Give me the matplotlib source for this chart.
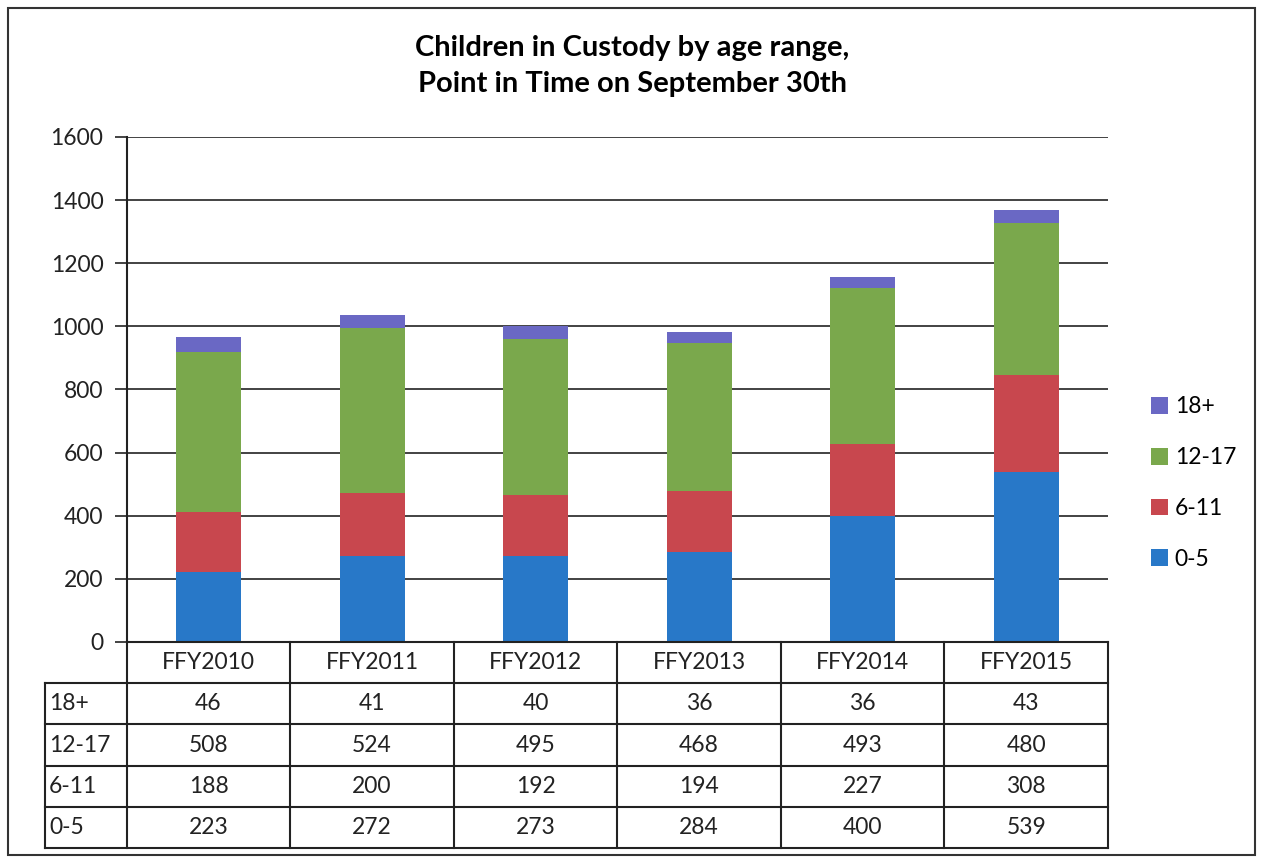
import numpy as np
import matplotlib.pyplot as plt
from matplotlib.patches import Rectangle

plt.rcParams['font.family'] = ['Lato', 'DejaVu Sans']

years = ['FFY2010', 'FFY2011', 'FFY2012', 'FFY2013', 'FFY2014', 'FFY2015']
age_groups = ['0-5', '6-11', '12-17', '18+']
age_0_5 = [223, 272, 273, 284, 400, 539]
age_6_11 = [188, 200, 192, 194, 227, 308]
age_12_17 = [508, 524, 495, 468, 493, 480]
age_18_plus = [46, 41, 40, 36, 36, 43]
yticks = [0, 200, 400, 600, 800, 1000, 1200, 1400, 1600]

series = [age_0_5, age_6_11, age_12_17, age_18_plus]
colors = ['#2878C8', '#C8474E', '#7AA84C', '#6A68C4']

W, H = 1265, 860
fig = plt.figure(figsize=(W / 100, H / 100), dpi=100)

# outer frame
fig.patches.append(Rectangle((8 / W, 5 / H), 1247 / W, 847 / H, transform=fig.transFigure,
                             fill=False, edgecolor='#333333', linewidth=1.5))

ax_l, ax_r, ax_t, ax_b = 127, 1108, 137, 642
ax = fig.add_axes([ax_l / W, (H - ax_b) / H, (ax_r - ax_l) / W, (ax_b - ax_t) / H])

x = np.arange(len(years))
bottom = np.zeros(len(years))
handles = []
for vals, c, lab in zip(series, colors, age_groups):
    b = ax.bar(x, vals, width=0.4, bottom=bottom, color=c, label=lab, zorder=3)
    handles.append(b)
    bottom += np.array(vals)

ax.set_xlim(-0.5, len(years) - 0.5)
ax.set_ylim(0, 1600)
ax.set_yticks(yticks)
ax.set_yticklabels([str(v) for v in yticks], fontsize=16.5, color='#222222')
ax.set_xticks([])
ax.yaxis.grid(True, color='#222222', linewidth=1.2, zorder=0)
ax.tick_params(axis='y', length=9, width=1.2, color='#222222', pad=8)
for s in ['top', 'right', 'bottom']:
    ax.spines[s].set_visible(False)
ax.spines['left'].set_linewidth(1.5)
ax.spines['left'].set_color('#222222')

fig.text(632 / W, 1 - 66 / H, 'Children in Custody by age range,\nPoint in Time on September 30th',
         ha='center', va='center', fontsize=21, fontweight='bold', linespacing=1.45)

leg = fig.legend(handles[::-1], age_groups[::-1], loc='center left',
                 bbox_to_anchor=(1130 / W, 1 - 483 / H), frameon=False,
                 fontsize=16.5, handlelength=0.75, handleheight=0.75,
                 labelspacing=1.3, handletextpad=0.3)

# data table below the plot
tb_l, tb_b = 45, 848
tax = fig.add_axes([tb_l / W, (H - tb_b) / H, (ax_r - tb_l) / W, (tb_b - ax_b) / H])
tax.set_xlim(-1.0, len(years) - 0.5)
tax.set_ylim(5, 0)
tax.axis('off')
lc = '#222222'
lw = 1.5
# vertical lines
for xv in np.arange(-0.5, len(years), 1.0):
    tax.plot([xv, xv], [0, 5], color=lc, lw=lw, clip_on=False)
tax.plot([-1.0, -1.0], [1, 5], color=lc, lw=lw, clip_on=False)
# horizontal lines
tax.plot([-0.5, len(years) - 0.5], [0, 0], color=lc, lw=lw, clip_on=False)
for yv in range(1, 6):
    tax.plot([-1.0, len(years) - 0.5], [yv, yv], color=lc, lw=lw, clip_on=False)

fs = 16.5
for i, yr in enumerate(years):
    tax.text(i, 0.5, yr, ha='center', va='center', fontsize=fs, color='#222222')

rows = list(zip(age_groups, series))[::-1]
for r, (lab, vals) in enumerate(rows, start=1):
    tax.text(-0.975, r + 0.5, lab, ha='left', va='center', fontsize=fs, color='#222222')
    for i, v in enumerate(vals):
        tax.text(i, r + 0.5, str(v), ha='center', va='center', fontsize=fs, color='#222222')

fig.savefig('out.png', dpi=100, facecolor='white')
